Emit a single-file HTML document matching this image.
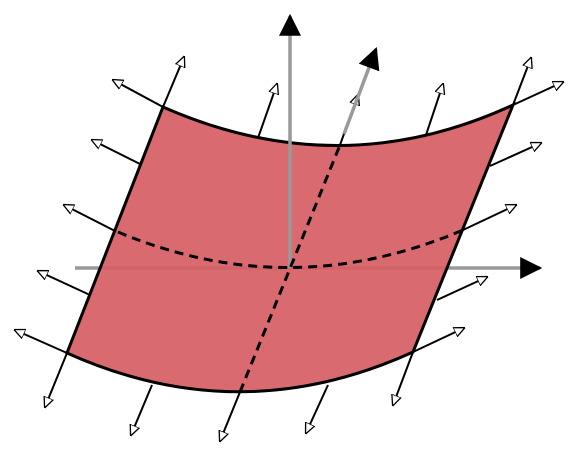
<!DOCTYPE html>
<html><head><meta charset="utf-8"><style>html,body{margin:0;padding:0;background:#fff}svg{display:block}</style></head>
<body>
<svg width="585" height="455" viewBox="0 0 585 455">
<defs>
<marker id="open" viewBox="0 0 10 10" refX="9" refY="5" markerWidth="11" markerHeight="11" markerUnits="userSpaceOnUse" orient="auto">
<path d="M0,0.5 L10,5 L0,9.5 Z" fill="#fff" stroke="#000" stroke-width="1.2"/></marker>
<marker id="solid" viewBox="0 0 10 10" refX="9" refY="5" markerWidth="22" markerHeight="22" markerUnits="userSpaceOnUse" orient="auto">
<path d="M0,0 L10,5 L0,10 Z" fill="#000"/></marker>
</defs>
<g stroke="#000" stroke-width="2" marker-end="url(#open)">
<line x1="163" y1="107" x2="184" y2="57"/>
<line x1="67" y1="353" x2="45" y2="407"/>
<line x1="513" y1="105" x2="531" y2="58"/>
<line x1="413" y1="352" x2="393" y2="405"/>
<line x1="163" y1="107" x2="113" y2="80"/>
<line x1="140" y1="164" x2="92" y2="140"/>
<line x1="117" y1="232" x2="64" y2="205"/>
<line x1="90" y1="295" x2="38" y2="271"/>
<line x1="67" y1="353" x2="15" y2="330"/>
<line x1="258" y1="138" x2="277" y2="84"/>
<line x1="425" y1="138" x2="443" y2="84"/>
<line x1="513" y1="105" x2="563" y2="82"/>
<line x1="490" y1="166" x2="541" y2="143"/>
<line x1="463" y1="230" x2="516" y2="205"/>
<line x1="437" y1="300" x2="487" y2="277"/>
<line x1="413" y1="352" x2="464" y2="328"/>
<line x1="152" y1="385" x2="131" y2="435"/>
<line x1="240" y1="392" x2="220" y2="441"/>
<line x1="328" y1="385" x2="306" y2="433"/>
<line x1="340" y1="145" x2="358" y2="95"/>
</g>
<line x1="75" y1="268" x2="540" y2="268" stroke="#999" stroke-width="3.5" marker-end="url(#solid)"/>
<path d="M163,107 Q340,185 513,105 L413,352 Q240,431 67,353 Z" fill="#d65f64" fill-opacity="0.93" stroke="#000" stroke-width="3"/>
<line x1="344" y1="134" x2="376" y2="49" stroke="#999" stroke-width="3.5" marker-end="url(#solid)"/>
<line x1="290" y1="268" x2="290" y2="16" stroke="#999" stroke-width="3.5" marker-end="url(#solid)"/>
<g fill="none" stroke="#000" stroke-width="3" stroke-dasharray="9,6">
<path d="M118,232 Q290,304 463,230"/>
<line x1="240" y1="392" x2="340" y2="145"/>
</g>
</svg>
</body></html>
